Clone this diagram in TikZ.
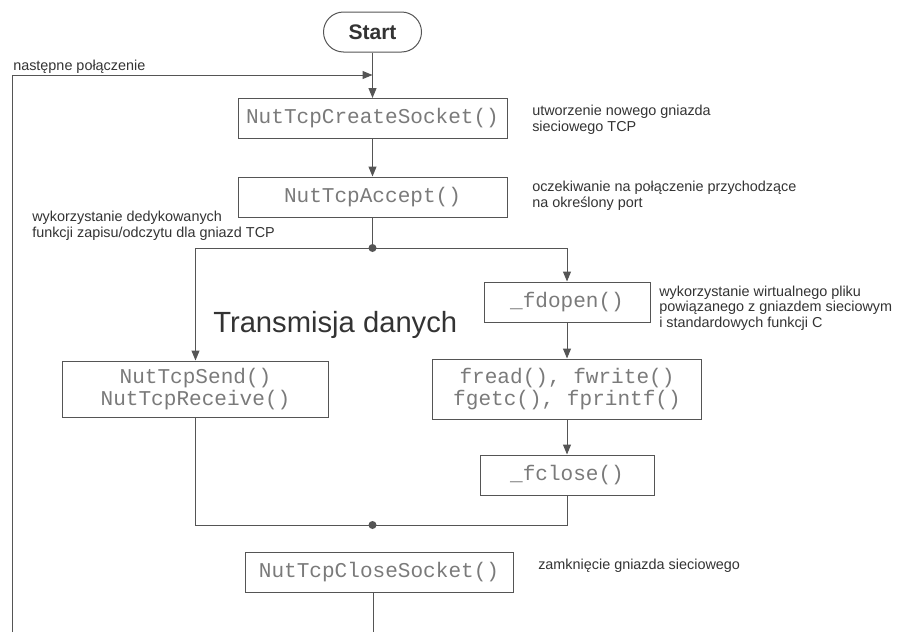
\documentclass[tikz,border=0pt]{standalone}
\usepackage{fontspec}
\setmainfont{Liberation Sans}
\newfontfamily\codefont{Liberation Mono}
\usepackage{xcolor}
\usepackage{tikz}
\usetikzlibrary{arrows.meta}
\definecolor{linegray}{HTML}{555555}
\definecolor{codegray}{HTML}{7A7A7A}
\definecolor{notegray}{HTML}{333333}

\begin{document}
\begin{tikzpicture}[x=0.75pt, y=-0.75pt,
  box/.style={draw=linegray, line width=0.75pt, align=center, inner sep=0pt,
              font=\codefont\fontsize{15.8}{17}\selectfont, text=codegray,
              minimum height=30pt},
  note/.style={anchor=base west, align=left, inner sep=0pt, text=notegray,
               font=\fontsize{10.8}{11.3}\selectfont},
  flow/.style={draw=linegray, line width=0.75pt},
  >={Triangle[length=7.5pt, width=6pt]}]
\useasboundingbox (0,0) rectangle (919,632);

\node[draw=linegray, line width=0.75pt, rounded corners=15pt, minimum width=73.5pt,
      minimum height=30pt, text=notegray,
      font=\bfseries\fontsize{15.8}{18}\selectfont] (start) at (372.5,32) {Start};
\node[box, minimum width=201.75pt] (create) at (372.5,118.5) {NutTcpCreateSocket()};
\node[box, minimum width=201.75pt] (accept) at (372.5,197) {NutTcpAccept()};
\node[box, minimum width=200pt, minimum height=42pt] (send) at (195.5,389)
  {NutTcpSend()\\NutTcpReceive()};
\node[box, minimum width=124.5pt] (fdopen) at (567,302) {\_fdopen()};
\node[box, minimum width=201.75pt, minimum height=45pt] (fio) at (567,389)
  {fread(), fwrite()\\fgetc(), fprintf()};
\node[box, minimum width=130.5pt] (fclose) at (567,475) {\_fclose()};
\node[box, minimum width=201pt] (close) at (379,572) {NutTcpCloseSocket()};

% comments beside the steps (base = last line)
\node[note] (nloop) at (13,70) {następne połączenie};
\node[note] (ncreate) at (532,131) {utworzenie nowego gniazda\\sieciowego TCP};
\node[note] (naccept) at (532,207) {oczekiwanie na połączenie przychodzące\\na określony port};
\node[note] (nsplit) at (32,237) {wykorzystanie dedykowanych\\funkcji zapisu/odczytu dla gniazd TCP};
\node[note] (nfdopen) at (659,327) {wykorzystanie wirtualnego pliku\\powiązanego z gniazdem sieciowym\\i standardowych funkcji C};
\node[note] (nclose) at (538,569) {zamknięcie gniazda sieciowego};
\node[anchor=base west, inner sep=0pt, text=notegray,
      font=\fontsize{21.9}{24}\selectfont] (title) at (213,332) {Transmisja danych};

\coordinate (split) at (372.5,248);
\coordinate (merge) at (372.5,525);
\coordinate (loopin) at (372.5,75);
\coordinate (loopend) at (12,632);
\coordinate (closeend) at (373,632);

\draw[flow,->] (start) -- (create);
\draw[flow,->] (loopend) |- (loopin);
\draw[flow,->] (create) -- (accept);
\draw[flow] (accept) -- (split);
\draw[flow,->] (split) -| (send);
\draw[flow,->] (split) -| (fdopen);
\draw[flow,->] (fdopen) -- (fio);
\draw[flow,->] (fio) -- (fclose);
\draw[flow] (send) |- (merge) -| (fclose);
\draw[flow] (close.south -| closeend) -- (closeend);
\fill[linegray] (split) circle (3pt);
\fill[linegray] (merge) circle (3pt);
\end{tikzpicture}
\end{document}
